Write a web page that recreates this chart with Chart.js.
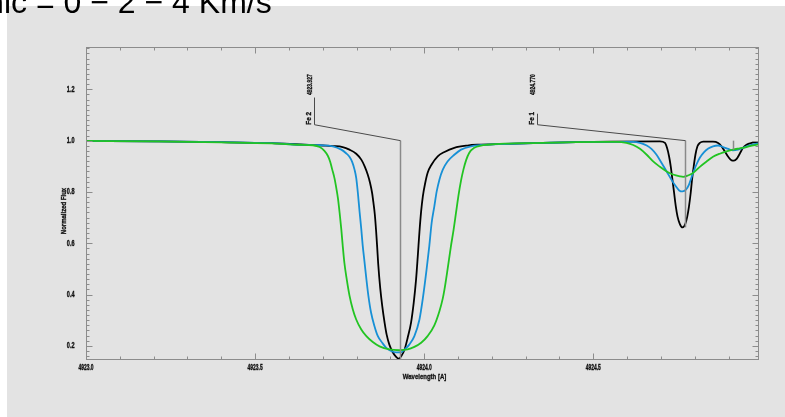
<!DOCTYPE html>
<html>
<head>
<meta charset="utf-8">
<script src="https://cdn.jsdelivr.net/npm/chart.js@4.4.0/dist/chart.umd.min.js"></script>
<style>
  html, body { margin: 0; padding: 0; background: #ffffff; overflow: hidden; }
  #box { position: relative; width: 785px; height: 417px; }
</style>
</head>
<body>
<div id="box"><canvas id="spec" width="785" height="417"></canvas></div>
<script>
// synthetic Fe profiles, vmic = 0 / 2 / 4 km/s
var wlBlack = [4923.000, 4923.200, 4923.400, 4923.550, 4923.632, 4923.700, 4923.730, 4923.759, 4923.779, 4923.799,
               4923.814, 4923.824, 4923.833, 4923.840, 4923.846, 4923.850, 4923.854, 4923.858, 4923.861, 4923.864,
               4923.870, 4923.876, 4923.883, 4923.889, 4923.897, 4923.907, 4923.917, 4923.924, 4923.932, 4923.942,
               4923.951, 4923.961, 4923.969, 4923.976, 4923.981, 4923.986, 4923.991, 4923.996, 4924.003, 4924.010,
               4924.022, 4924.040, 4924.060, 4924.089, 4924.128, 4924.158, 4924.237, 4924.350, 4924.450, 4924.550,
               4924.697, 4924.712, 4924.718, 4924.724, 4924.729, 4924.734, 4924.739, 4924.744, 4924.749, 4924.756,
               4924.764, 4924.772, 4924.778, 4924.783, 4924.788, 4924.792, 4924.797, 4924.802, 4924.808, 4924.815,
               4924.825, 4924.854, 4924.869, 4924.879, 4924.889, 4924.899, 4924.909, 4924.916, 4924.924, 4924.933,
               4924.943, 4924.953, 4924.968, 4924.990];
var fluxBlack = [0.999, 0.997, 0.994, 0.990, 0.985, 0.981, 0.979, 0.975, 0.965, 0.949,
                 0.926, 0.900, 0.868, 0.835, 0.796, 0.757, 0.712, 0.645, 0.585, 0.520,
                 0.425, 0.355, 0.290, 0.244, 0.205, 0.175, 0.157, 0.150, 0.160, 0.186,
                 0.231, 0.290, 0.368, 0.459, 0.549, 0.645, 0.725, 0.783, 0.835, 0.874,
                 0.907, 0.939, 0.956, 0.972, 0.981, 0.984, 0.987, 0.991, 0.994, 0.996,
                 0.997, 0.991, 0.972, 0.939, 0.900, 0.848, 0.796, 0.744, 0.705, 0.675,
                 0.662, 0.675, 0.705, 0.744, 0.796, 0.848, 0.900, 0.945, 0.978, 0.991,
                 0.996, 0.996, 0.991, 0.978, 0.958, 0.937, 0.923, 0.922, 0.929, 0.949,
                 0.972, 0.984, 0.991, 0.995];

var wlBlue = [4923.000, 4923.200, 4923.400, 4923.550, 4923.632, 4923.691, 4923.730, 4923.755, 4923.769, 4923.779,
              4923.787, 4923.794, 4923.799, 4923.804, 4923.809, 4923.814, 4923.818, 4923.824, 4923.829, 4923.835,
              4923.843, 4923.853, 4923.863, 4923.876, 4923.888, 4923.902, 4923.917, 4923.932, 4923.942, 4923.956,
              4923.971, 4923.986, 4923.996, 4924.007, 4924.015, 4924.022, 4924.030, 4924.037, 4924.045, 4924.055,
              4924.069, 4924.089, 4924.109, 4924.138, 4924.168, 4924.237, 4924.350, 4924.450, 4924.550, 4924.618,
              4924.638, 4924.658, 4924.672, 4924.687, 4924.702, 4924.717, 4924.731, 4924.744, 4924.754, 4924.764,
              4924.774, 4924.783, 4924.795, 4924.805, 4924.815, 4924.827, 4924.840, 4924.854, 4924.869, 4924.884,
              4924.899, 4924.913, 4924.928, 4924.943, 4924.963, 4924.983, 4924.990];
var fluxBlue = [0.999, 0.997, 0.994, 0.990, 0.984, 0.982, 0.978, 0.965, 0.951, 0.937,
                0.917, 0.887, 0.855, 0.795, 0.722, 0.655, 0.594, 0.522, 0.461, 0.395,
                0.329, 0.277, 0.238, 0.212, 0.192, 0.180, 0.175, 0.175, 0.186, 0.205,
                0.238, 0.303, 0.385, 0.497, 0.588, 0.679, 0.744, 0.802, 0.848, 0.887,
                0.919, 0.945, 0.965, 0.978, 0.983, 0.987, 0.991, 0.994, 0.995, 0.995,
                0.991, 0.981, 0.968, 0.945, 0.913, 0.880, 0.848, 0.822, 0.806, 0.802,
                0.809, 0.829, 0.874, 0.907, 0.933, 0.954, 0.969, 0.978, 0.981, 0.975,
                0.968, 0.962, 0.965, 0.972, 0.982, 0.988, 0.989];

var wlGreen = [4923.000, 4923.200, 4923.400, 4923.550, 4923.632, 4923.671, 4923.691, 4923.705, 4923.715, 4923.722,
               4923.728, 4923.735, 4923.740, 4923.745, 4923.750, 4923.755, 4923.759, 4923.764, 4923.771, 4923.779,
               4923.789, 4923.799, 4923.814, 4923.829, 4923.848, 4923.868, 4923.897, 4923.927, 4923.951, 4923.971,
               4923.991, 4924.010, 4924.030, 4924.045, 4924.055, 4924.060, 4924.069, 4924.079, 4924.087, 4924.094,
               4924.101, 4924.109, 4924.116, 4924.124, 4924.133, 4924.148, 4924.168, 4924.187, 4924.237, 4924.350,
               4924.450, 4924.550, 4924.569, 4924.598, 4924.618, 4924.638, 4924.658, 4924.677, 4924.697, 4924.717,
               4924.736, 4924.756, 4924.766, 4924.780, 4924.795, 4924.815, 4924.835, 4924.854, 4924.874, 4924.894,
               4924.913, 4924.933, 4924.953, 4924.973, 4924.990];
var fluxGreen = [0.999, 0.997, 0.993, 0.989, 0.984, 0.982, 0.975, 0.960, 0.941, 0.918,
                 0.888, 0.852, 0.816, 0.775, 0.718, 0.653, 0.592, 0.524, 0.459, 0.397,
                 0.342, 0.303, 0.264, 0.238, 0.215, 0.198, 0.186, 0.183, 0.186, 0.196,
                 0.212, 0.238, 0.280, 0.335, 0.385, 0.420, 0.497, 0.588, 0.653, 0.718,
                 0.783, 0.845, 0.887, 0.924, 0.952, 0.972, 0.981, 0.984, 0.988, 0.991,
                 0.994, 0.995, 0.995, 0.991, 0.983, 0.968, 0.945, 0.919, 0.898, 0.880,
                 0.868, 0.861, 0.859, 0.864, 0.874, 0.898, 0.919, 0.937, 0.949, 0.958,
                 0.965, 0.970, 0.975, 0.982, 0.986];

var xTicks = [4923.0, 4923.5, 4924.0, 4924.5];
var yTicks = [0.2, 0.4, 0.6, 0.8, 1.0, 1.2];

// line identifications
var lineWl = [4923.927, 4924.770, 4924.912];
var lineIon = ['Fe 2', 'Fe 1', ''];
var lineDepth = [0.145, 0.662, 0.965];

var headerText = 'Vmic = 0 \u2212 2 \u2212 4 Km/s';

function pts(wl, fl) {
    var out = [];
    for (var i = 0; i < wl.length; i++) out.push({x: wl[i], y: fl[i]});
    return out;
}

var sans = "'Liberation Sans', Arial, sans-serif";

// narrow heavy text, the IDL labels are much tighter than Arial
function narrowText(ctx, text, x, y, sx, rotate) {
    ctx.save();
    ctx.translate(x, y);
    if (rotate) ctx.rotate(-Math.PI / 2);
    ctx.scale(sx, 1);
    ctx.fillText(text, 0, 0);
    ctx.lineWidth = 0.35;
    ctx.strokeStyle = ctx.fillStyle;
    ctx.strokeText(text, 0, 0);
    ctx.restore();
}

// where the id labels sit (wavelength of the stalk, flux of stalk top)
var idLabel = [
    {wl: 4923.675, top: 1.168},
    {wl: 4924.335, top: 1.105},
    null
];

var idfPlot = {
    id: 'idfPlot',
    beforeDraw: function(chart) {
        var ctx = chart.ctx;
        ctx.save();
        ctx.fillStyle = '#ffffff';
        ctx.fillRect(0, 0, chart.width, chart.height);
        ctx.fillStyle = '#e3e3e3';
        ctx.fillRect(7, 6, chart.width - 7, chart.height - 6);
        ctx.restore();
    },
    afterDatasetsDraw: function(chart) {
        var ctx = chart.ctx;
        var xs = chart.scales.x, ys = chart.scales.y;
        var a = chart.chartArea;
        ctx.save();

        // markers for the identified lines
        var yCont = ys.getPixelForValue(1.0);
        var yStalk = ys.getPixelForValue(1.062);
        for (var i = 0; i < lineWl.length; i++) {
            var px = Math.round(xs.getPixelForValue(lineWl[i])) + 0.5;
            var yBot = Math.min(ys.getPixelForValue(lineDepth[i]), a.bottom);
            ctx.strokeStyle = '#8a8a8a';
            ctx.lineWidth = 1.5;
            ctx.beginPath();
            ctx.moveTo(px, yCont);
            ctx.lineTo(px, yBot);
            ctx.stroke();
            var lab = idLabel[i];
            if (!lab) continue;
            var lx = Math.round(xs.getPixelForValue(lab.wl)) + 0.5;
            var ly = ys.getPixelForValue(lab.top);
            ctx.strokeStyle = '#4a4a4a';
            ctx.lineWidth = 1;
            ctx.beginPath();
            ctx.moveTo(lx, ly);
            ctx.lineTo(lx, yStalk);
            ctx.lineTo(px, yCont);
            ctx.stroke();

            ctx.fillStyle = '#111111';
            ctx.font = 'bold 8px ' + sans;
            ctx.textAlign = 'left';
            ctx.textBaseline = 'middle';
            narrowText(ctx, lineIon[i], lx - 6, yStalk, 0.8, true);
            narrowText(ctx, lineWl[i].toFixed(3), lx - 5, ys.getPixelForValue(1.178), 0.62, true);
        }

        // frame with inward ticks on all four sides
        ctx.strokeStyle = '#8c8c8c';
        ctx.lineWidth = 1;
        var L = a.left + 0.5, R = a.right - 0.5, T = a.top + 0.5, B = a.bottom - 0.5;
        ctx.strokeRect(L, T, R - L, B - T);
        ctx.beginPath();
        for (var k = 0; ; k++) {
            var v = xs.min + k * 0.1;
            if (v > xs.max + 1e-9) break;
            var major = Math.abs(v * 2 - Math.round(v * 2)) < 1e-6;
            var len = major ? 6 : 3;
            var x = Math.round(xs.getPixelForValue(v)) + 0.5;
            ctx.moveTo(x, B); ctx.lineTo(x, B - len);
            ctx.moveTo(x, T); ctx.lineTo(x, T + len);
        }
        for (var j = 0; ; j++) {
            var w = 0.16 + j * 0.02;
            if (w > ys.max + 1e-9) break;
            var maj = Math.abs(w * 5 - Math.round(w * 5)) < 1e-6;
            var ln = maj ? 6 : 3;
            var y = Math.round(ys.getPixelForValue(w)) + 0.5;
            ctx.moveTo(L, y); ctx.lineTo(L + ln, y);
            ctx.moveTo(R, y); ctx.lineTo(R - ln, y);
        }
        ctx.stroke();
        ctx.restore();
    },
    afterDraw: function(chart) {
        var ctx = chart.ctx;
        var xs = chart.scales.x, ys = chart.scales.y;
        var a = chart.chartArea;
        ctx.save();
        ctx.fillStyle = '#111111';
        ctx.font = 'bold 8.5px ' + sans;
        ctx.textBaseline = 'middle';

        // tick labels at the scale positions
        ctx.textAlign = 'center';
        xTicks.forEach(function(v) {
            narrowText(ctx, v.toFixed(1), xs.getPixelForValue(v), a.bottom + 8, 0.58, false);
        });
        ctx.textAlign = 'right';
        yTicks.forEach(function(v) {
            narrowText(ctx, v.toFixed(1), a.left - 11.5, ys.getPixelForValue(v), 0.65, false);
        });

        ctx.font = 'bold 8px ' + sans;
        ctx.textAlign = 'center';
        narrowText(ctx, 'Wavelength [A]', (a.left + a.right) / 2 + 2, a.bottom + 17, 0.75, false);
        narrowText(ctx, 'Normalized Flux', a.left - 22, 211, 0.75, true);

        ctx.fillStyle = '#000000';
        ctx.font = '32px ' + sans;
        ctx.textAlign = 'left';
        ctx.textBaseline = 'alphabetic';
        ctx.fillText(headerText, -44, 13);
        ctx.restore();
    }
};

var ctx = document.getElementById('spec').getContext('2d');
var spec = new Chart(ctx, {
    type: 'line',
    data: {
        datasets: [
            {data: pts(wlGreen, fluxGreen), borderColor: '#22c422', order: 0},
            {data: pts(wlBlue, fluxBlue), borderColor: '#1790d6', order: 1},
            {data: pts(wlBlack, fluxBlack), borderColor: '#000000', order: 2}
        ]
    },
    options: {
        responsive: false,
        devicePixelRatio: 1,
        animation: false,
        layout: {padding: {left: 0, top: 47, right: 26, bottom: 0}},
        elements: {
            line: {borderWidth: 1.8, cubicInterpolationMode: 'monotone', fill: false},
            point: {radius: 0}
        },
        plugins: {legend: {display: false}, tooltip: {enabled: false}},
        scales: {
            x: {
                type: 'linear',
                min: 4923.0,
                max: 4924.99,
                afterFit: function(s) { s.height = 57; },
                afterBuildTicks: function(s) { s.ticks = xTicks.map(function(v) { return {value: v}; }); },
                grid: {display: false, drawTicks: false},
                border: {display: false},
                ticks: {display: false}
            },
            y: {
                min: 0.145,
                max: 1.365,
                afterFit: function(s) { s.width = 86; },
                afterBuildTicks: function(s) { s.ticks = yTicks.map(function(v) { return {value: v}; }); },
                grid: {display: false, drawTicks: false},
                border: {display: false},
                ticks: {display: false}
            }
        }
    },
    plugins: [idfPlot]
});
</script>
</body>
</html>
